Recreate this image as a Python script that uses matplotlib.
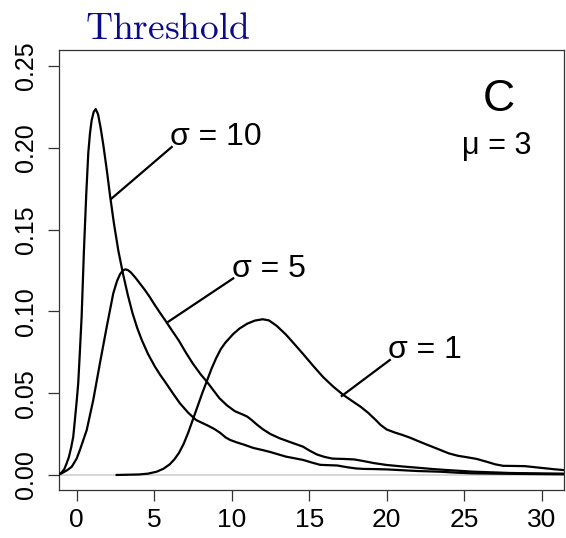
import matplotlib
matplotlib.use("Agg")
import matplotlib.pyplot as plt

plt.rcParams['font.family'] = ['Liberation Sans', 'DejaVu Sans']
plt.rcParams['mathtext.fontset'] = 'cm'

# density curves for three noise levels (sigma), mu = 3
x_s10 = [-1.2, -1.0, -0.8, -0.65, -0.5, -0.35, -0.22, -0.1, 0.0, 0.1, 0.2, 0.32, 0.47,
         0.62, 0.75, 0.86, 0.97, 1.1, 1.23, 1.38, 1.55, 1.72, 1.95, 2.15, 2.4, 2.69, 3.0,
         3.3, 3.6, 3.9, 4.2, 4.6, 5.05, 5.4, 5.7, 6.2, 6.66, 7.2, 7.7, 8.1, 8.5, 8.9,
         9.25, 9.6, 9.9, 10.3, 10.8, 11.4, 12.0, 12.5, 13.0, 13.5, 14.0, 14.6, 15.2,
         15.7, 16.2, 16.8, 17.4, 18.0, 18.5, 19.2, 20.0, 21.0, 22.0, 23.4, 24.5, 25.5,
         28.0, 31.4]
y_s10 = [0.0, 0.0012, 0.0035, 0.007, 0.011, 0.017, 0.0234, 0.035, 0.045, 0.056, 0.074,
         0.0968, 0.1375, 0.172, 0.197, 0.209, 0.217, 0.222, 0.2237, 0.2205, 0.212, 0.2017,
         0.186, 0.171, 0.154, 0.137, 0.1225, 0.110, 0.099, 0.090, 0.0825, 0.074, 0.0662,
         0.061, 0.057, 0.050, 0.0438, 0.038, 0.0336, 0.0318, 0.030, 0.028, 0.0258, 0.023,
         0.0214, 0.020, 0.0185, 0.0165, 0.0152, 0.014, 0.0126, 0.0112, 0.0103, 0.0092,
         0.0075, 0.0062, 0.006, 0.0058, 0.0048, 0.004, 0.0037, 0.0036, 0.0034, 0.0029,
         0.0024, 0.002, 0.0014, 0.001, 0.0007, 0.0004]

x_s5 = [-1.2, -0.97, -0.6, -0.32, 0.0, 0.21, 0.65, 1.07, 1.5, 1.94, 2.36, 2.6, 2.8, 3.0,
        3.15, 3.3, 3.5, 3.8, 4.1, 4.4, 4.7, 5.0, 5.35, 5.7, 6.1, 6.6, 7.0, 7.5, 8.0, 8.4,
        8.8, 9.2, 9.7, 10.2, 10.7, 11.0, 11.3, 11.6, 12.0, 12.5, 13.1, 13.8, 14.6, 15.0,
        15.5, 16.0, 16.5, 17.2, 17.9, 18.5, 19.2, 20.0, 21.0, 21.9, 23.0, 23.9, 25.6,
        28.0, 31.4]
y_s5 = [0.0, 0.001, 0.003, 0.005, 0.010, 0.0153, 0.0275, 0.0458, 0.0683, 0.0906, 0.111,
        0.1185, 0.1228, 0.1252, 0.1257, 0.1253, 0.1238, 0.1205, 0.1168, 0.1131, 0.109,
        0.1045, 0.0995, 0.0947, 0.089, 0.082, 0.0755, 0.068, 0.0615, 0.057, 0.052, 0.047,
        0.0425, 0.039, 0.037, 0.0357, 0.0335, 0.031, 0.028, 0.025, 0.0224, 0.020, 0.0173,
        0.015, 0.0125, 0.011, 0.010, 0.0098, 0.0095, 0.0085, 0.0072, 0.0061, 0.0052,
        0.0045, 0.0036, 0.003, 0.002, 0.0012, 0.0008]

x_s1 = [2.58, 4.0, 4.6, 5.16, 5.6, 6.0, 6.3, 6.6, 6.9, 7.2, 7.5, 7.8, 8.1, 8.4, 8.7, 9.0,
        9.3, 9.6, 10.1, 10.5, 11.0, 11.5, 12.0, 12.4, 12.9, 13.5, 14.0, 14.6, 15.3, 15.9,
        16.55, 17.2, 17.8, 18.3, 18.8, 19.3, 19.6, 20.0, 20.5, 21.0, 21.5, 22.0, 22.6,
        23.4, 24.0, 24.6, 25.2, 25.8, 26.4, 27.0, 27.5, 28.2, 28.9, 29.5, 30.2, 30.8, 31.4]
y_s1 = [0.0, 0.0003, 0.0008, 0.002, 0.0038, 0.0065, 0.0095, 0.0135, 0.019, 0.026, 0.034,
        0.042, 0.050, 0.0575, 0.065, 0.0715, 0.077, 0.081, 0.0862, 0.0895, 0.0925, 0.0944,
        0.0952, 0.0945, 0.0912, 0.0858, 0.0805, 0.074, 0.0662, 0.0598, 0.054, 0.0489,
        0.045, 0.0418, 0.038, 0.0335, 0.0306, 0.0278, 0.026, 0.0245, 0.0228, 0.0208,
        0.0185, 0.0155, 0.0132, 0.0117, 0.0108, 0.0098, 0.0082, 0.0065, 0.0056, 0.0055,
        0.0054, 0.0048, 0.0041, 0.0035, 0.003]

x_ticks = [0, 5, 10, 15, 20, 25, 30]
y_ticks = [0.00, 0.05, 0.10, 0.15, 0.20, 0.25]
y_ticklabels = ["0.00", "0.05", "0.10", "0.15", "0.20", "0.25"]

# label text, anchor point on curve, text position
labels = ["σ = 10", "σ = 5", "σ = 1"]
anchor_x = [2.25, 5.91, 17.1]
anchor_y = [0.169, 0.0937, 0.0483]
text_x = [6.13, 10.1, 20.2]
text_y = [0.2005, 0.1202, 0.0703]

fig = plt.figure(figsize=(5.66, 5.38), dpi=100)
ax = fig.add_axes([0.1034, 0.0892, 0.8922, 0.8178])

ax.axhline(0, color='#d0d0d0', lw=1.2, zorder=1)
for xs, ys in [(x_s10, y_s10), (x_s5, y_s5), (x_s1, y_s1)]:
    ax.plot(xs, ys, color='black', lw=1.6, zorder=3, solid_joinstyle='round')

for lab, ax_, ay_, tx, ty in zip(labels, anchor_x, anchor_y, text_x, text_y):
    ax.plot([ax_, tx], [ay_, ty], color='black', lw=1.6, zorder=3)
    ax.text(tx - 0.1, ty + 0.006, lab, ha='left', va='center', fontsize=23)

ax.text(27.2, 0.2298, "C", ha='center', va='center', fontsize=32)
ax.text(27.1, 0.201, "μ = 3", ha='center', va='center', fontsize=22)

ax.set_xlim(-1.17, 31.4)
ax.set_ylim(-0.0092, 0.2598)
ax.set_xticks(x_ticks)
ax.set_xticklabels([str(t) for t in x_ticks])
ax.set_yticks(y_ticks)
ax.set_yticklabels(y_ticklabels, rotation=90, va='center')
ax.tick_params(axis='both', direction='out', length=8, width=0.9, color='#333333')
ax.tick_params(axis='x', pad=5, labelsize=19)
ax.tick_params(axis='y', pad=7, labelsize=18)
for sp in ax.spines.values():
    sp.set_linewidth(0.9)
    sp.set_color('#333333')

fig.text(0.150, 0.9275, r"$\mathrm{Threshold}$", color='#0b0b8a', fontsize=27,
         ha='left', va='baseline')

fig.savefig("out.png", dpi=100)
